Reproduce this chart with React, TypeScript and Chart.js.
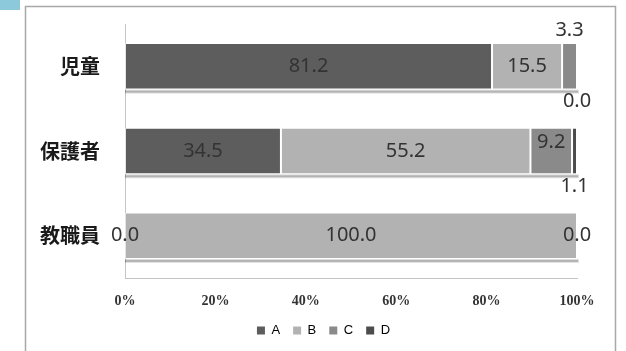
import React, { useEffect, useRef } from "react";
import { Chart, registerables } from "chart.js";

Chart.register(...registerables);

// Respondent groups (rows) and answer categories (stacked series)
const categories = ["児童", "保護者", "教職員"];
const seriesNames = ["A", "B", "C", "D"];
const valuesA = [81.2, 34.5, 0.0];
const valuesB = [15.5, 55.2, 100.0];
const valuesC = [3.3, 9.2, 0.0];
const valuesD = [0.0, 1.1, 0.0];
const xTicks = [0, 20, 40, 60, 80, 100];

const seriesValues = [valuesA, valuesB, valuesC, valuesD];
const seriesColors = ["#5d5d5d", "#b2b2b2", "#8a8a8a", "#4c4c4c"];

// Where a value label sits relative to its segment ("series-row")
type Placement = "center" | "above" | "below" | "upper";
const labelPlacement: Record<string, Placement> = {
  "2-0": "above",
  "3-0": "below",
  "2-1": "upper",
  "3-1": "below",
};

const W = 626;
const H = 351;
const LEGEND_SHIFT = 35;

const framePlugin = {
  id: "frame",
  beforeDraw(chart: Chart) {
    const ctx = chart.ctx;
    ctx.save();
    ctx.fillStyle = "#ffffff";
    ctx.fillRect(0, 0, W, H);
    ctx.fillStyle = "#8ccadb";
    ctx.fillRect(0, 0, 20, 10);
    ctx.strokeStyle = "#a8a8a8";
    ctx.lineWidth = 1.5;
    ctx.beginPath();
    ctx.moveTo(25.5, H);
    ctx.lineTo(25.5, 6.5);
    ctx.lineTo(615.5, 6.5);
    ctx.lineTo(615.5, H);
    ctx.stroke();
    ctx.restore();
  },
};

// Centre the legend row under the plot rather than under the whole canvas
const legendShiftPlugin = {
  id: "legendShift",
  afterLayout(chart: Chart) {
    const lg: any = chart.legend;
    if (!lg) return;
    lg.left += LEGEND_SHIFT;
    lg.right += LEGEND_SHIFT;
  },
};

const shadowPlugin = {
  id: "barShadow",
  beforeDatasetsDraw(chart: Chart) {
    const ctx = chart.ctx;
    const metas = chart.data.datasets.map((_, i) => chart.getDatasetMeta(i));
    ctx.save();
    categories.forEach((_, j) => {
      let x0 = Infinity;
      let x1 = -Infinity;
      let bottom = 0;
      metas.forEach((m) => {
        const el: any = m.data[j];
        if (!el) return;
        const p = el.getProps(["x", "y", "base", "height"], true);
        x0 = Math.min(x0, p.base, p.x);
        x1 = Math.max(x1, p.base, p.x);
        bottom = p.y + p.height / 2;
      });
      ctx.fillStyle = "rgba(0,0,0,0.12)";
      ctx.fillRect(x0, bottom, x1 - x0 + 2, 4);
      ctx.fillStyle = "rgba(0,0,0,0.2)";
      ctx.fillRect(x0, bottom + 1, x1 - x0 + 1, 2);
    });
    ctx.restore();
  },
};

const valueLabelPlugin = {
  id: "valueLabels",
  afterDatasetsDraw(chart: Chart) {
    const ctx = chart.ctx;
    const drawn = new Set<string>();
    ctx.save();
    ctx.font = "20px 'Noto Sans', sans-serif";
    ctx.fillStyle = "#333333";
    ctx.textAlign = "center";
    ctx.textBaseline = "middle";
    chart.data.datasets.forEach((ds, i) => {
      const meta = chart.getDatasetMeta(i);
      meta.data.forEach((el: any, j) => {
        const v = ds.data[j] as number;
        const p = el.getProps(["x", "y", "base", "height"], true);
        const cx = (p.x + p.base) / 2;
        const half = p.height / 2;
        const place = labelPlacement[`${i}-${j}`] || "center";
        let cy = p.y;
        if (place === "above") cy = p.y - half - 13;
        else if (place === "below") cy = p.y + half + 12;
        else if (place === "upper") cy = p.y - 9;
        const text = v.toFixed(1);
        const key = `${text}@${Math.round(cx)},${Math.round(cy)}`;
        if (drawn.has(key)) return;
        drawn.add(key);
        ctx.fillText(text, cx, cy);
      });
    });
    ctx.restore();
  },
};

export default function App() {
  const ref = useRef<HTMLCanvasElement | null>(null);

  useEffect(() => {
    if (!ref.current) return;
    const chart = new Chart(ref.current, {
      type: "bar",
      data: {
        labels: categories,
        datasets: seriesNames.map((name, i) => ({
          label: name,
          data: seriesValues[i],
          backgroundColor: seriesColors[i],
          borderColor: "rgba(255,255,255,0.55)",
          borderWidth: 1,
          borderSkipped: false,
          barPercentage: 0.55,
          categoryPercentage: 1,
        })),
      },
      options: {
        indexAxis: "y",
        responsive: false,
        animation: false,
        devicePixelRatio: 1,
        layout: { padding: { left: 0, right: 49, top: 24, bottom: 4 } },
        scales: {
          x: {
            type: "linear",
            stacked: true,
            min: 0,
            max: 100,
            afterFit: (s: any) => {
              s.height = 33;
            },
            afterBuildTicks: (s: any) => {
              s.ticks = xTicks.map((v) => ({ value: v }));
            },
            grid: { display: false, drawTicks: false },
            border: { display: true, color: "#c4c4c4", width: 1 },
            ticks: {
              padding: 15,
              color: "#333333",
              font: { family: "'Liberation Serif', serif", size: 14, weight: "bold" },
              callback: (v: any) => `${v}%`,
            },
          },
          y: {
            type: "category",
            stacked: true,
            afterFit: (s: any) => {
              s.width = 125;
              s.paddingTop = 0;
              s.paddingBottom = 0;
            },
            grid: { display: false, drawTicks: false },
            border: { display: true, color: "#c4c4c4", width: 1 },
            ticks: {
              padding: 25,
              color: "#1a1a1a",
              font: { family: "'Noto Sans CJK JP', sans-serif", size: 20, weight: "bold" },
            },
          },
        },
        plugins: {
          legend: {
            position: "bottom",
            labels: {
              boxWidth: 8,
              boxHeight: 8,
              padding: 13,
              color: "#333333",
              font: { family: "'Liberation Sans', Arial, sans-serif", size: 13 },
              generateLabels: (c: Chart) =>
                c.data.datasets.map((ds, i) => ({
                  text: ds.label as string,
                  fillStyle: seriesColors[i],
                  strokeStyle: seriesColors[i],
                  lineWidth: 0,
                  hidden: false,
                  datasetIndex: i,
                })),
            },
          },
          tooltip: { enabled: false },
        },
      },
      plugins: [framePlugin, legendShiftPlugin, shadowPlugin, valueLabelPlugin],
    });
    return () => chart.destroy();
  }, []);

  return (
    <div style={{ position: "fixed", left: 0, top: 0, width: W, height: H }}>
      <canvas ref={ref} width={W} height={H} />
    </div>
  );
}
